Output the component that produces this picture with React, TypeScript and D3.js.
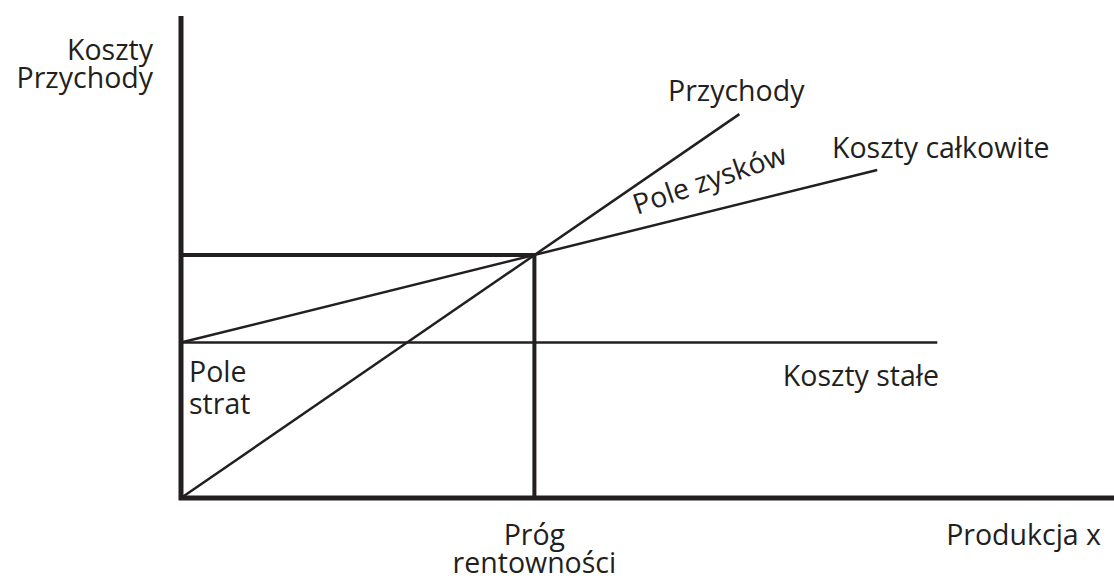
import React from 'react';
import * as d3 from 'd3';

// break-even chart data (arbitrary units)
const breakEven = { x: 50, y: 50 };
const fixedCost = 32;
const revenuePoints: [number, number][] = [[0, 0], [79, 79]];
const totalCostPoints: [number, number][] = [[0, 32], [98.5, 67.5]];
const fixedCostPoints: [number, number][] = [[0, fixedCost], [107, fixedCost]];
const xAxisMax = 132;
const yAxisMax = 99.2;

const W = 1114;
const H = 579;
const ink = '#231f20';
const font = "'Open Sans', sans-serif";

export default function App() {
  const x = d3.scaleLinear().domain([0, xAxisMax]).range([181, W]);
  const y = d3.scaleLinear().domain([0, yAxisMax]).range([498, 16]);
  const line = d3
    .line<[number, number]>()
    .x((d) => x(d[0]))
    .y((d) => y(d[1]));

  const fs = 28.5;

  return (
    <svg
      width={W}
      height={H}
      style={{ position: 'absolute', left: 0, top: 0, background: '#fff' }}
      fontFamily={font}
      fontSize={fs}
      fill={ink}
    >
      {/* thin lines */}
      <path d={line(fixedCostPoints)!} stroke={ink} strokeWidth={2.5} fill="none" />
      <path d={line(totalCostPoints)!} stroke={ink} strokeWidth={2.5} fill="none" />
      <path d={line(revenuePoints)!} stroke={ink} strokeWidth={2.5} fill="none" />

      {/* break-even box */}
      <path
        d={line([[0, breakEven.y], [breakEven.x, breakEven.y], [breakEven.x, 0]])!}
        stroke={ink}
        strokeWidth={4}
        fill="none"
      />

      {/* axes */}
      <path
        d={line([[0, yAxisMax], [0, 0], [xAxisMax, 0]])!}
        stroke={ink}
        strokeWidth={5}
        fill="none"
      />

      {/* labels */}
      <text x={153} y={60} textAnchor="end">Koszty</text>
      <text x={153} y={88} textAnchor="end">Przychody</text>

      <text x={668} y={101}>Przychody</text>
      <text x={832} y={158}>Koszty całkowite</text>
      <text x={637} y={215} transform="rotate(-19 637 215)">Pole zysków</text>

      <text x={189} y={382}>Pole</text>
      <text x={189} y={414}>strat</text>
      <text x={939} y={386} textAnchor="end">Koszty stałe</text>

      <text x={x(breakEven.x)} y={545} textAnchor="middle">Próg</text>
      <text x={x(breakEven.x)} y={573} textAnchor="middle">rentowności</text>
      <text x={1101} y={545} textAnchor="end">Produkcja x</text>
    </svg>
  );
}
